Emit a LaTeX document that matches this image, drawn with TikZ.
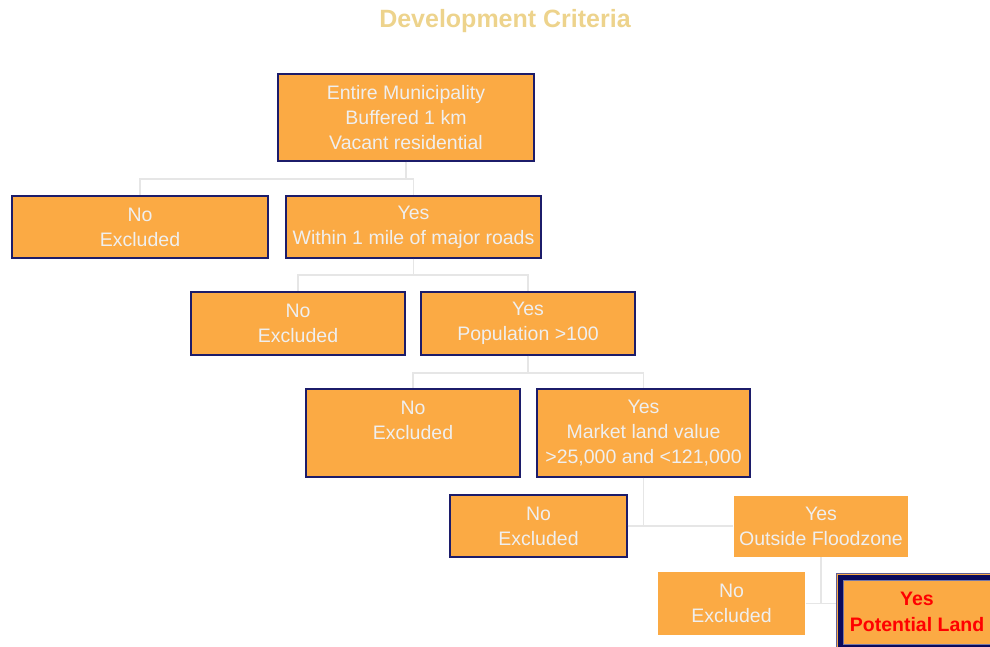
\documentclass[tikz,border=0pt]{standalone}
\usepackage{fontspec}
\setmainfont{Liberation Sans}
\definecolor{boxfill}{HTML}{FBAA44}
\definecolor{boxline}{HTML}{1C1C6A}
\definecolor{boxtext}{HTML}{EFEFEF}
\definecolor{connline}{HTML}{E6E6E6}
\definecolor{titlecol}{HTML}{EDD38C}
\definecolor{deepnavy}{HTML}{0A0A5C}
\definecolor{finalred}{HTML}{FF0000}
\tikzset{
  box/.style={draw=boxline, line width=1.3pt, fill=boxfill, text=boxtext,
    font=\fontsize{19.5}{25}\selectfont, align=center, inner sep=0pt,
    rectangle},
  plainbox/.style={box, draw=none},
  conn/.style={draw=connline, line width=1.6pt},
}
\begin{document}
\begin{tikzpicture}[x=1pt,y=-1pt]
\useasboundingbox (0,0) rectangle (990,647);
\clip (0,0) rectangle (990,647);

\node[text=titlecol, font=\bfseries\fontsize{25}{30}\selectfont] (title) at (505,21) {Development Criteria};

% connectors (drawn first, behind boxes)
\coordinate (c0) at (406,179);
\coordinate (c1) at (413.5,275);
\coordinate (c2) at (528,373);

\node[box, minimum width=256pt, minimum height=87pt] (root) at (406,117.5)
  {Entire Municipality\\Buffered 1 km\\Vacant residential};
\node[box, minimum width=256pt, minimum height=62pt] (no1) at (140,227) {No\\Excluded};
\node[box, minimum width=255pt, minimum height=62pt] (yes1) at (413.5,227) {Yes\\Within 1 mile of major roads};
\node[box, minimum width=214pt, minimum height=63pt] (no2) at (298,323.5) {No\\Excluded};
\node[box, minimum width=214pt, minimum height=63pt] (yes2) at (528,323.5) {Yes\\Population >100};
\node[box, minimum width=214pt, minimum height=88pt] (no3) at (413,433) {No\\Excluded\\\mbox{}};
\node[box, minimum width=213pt, minimum height=88pt] (yes3) at (643.5,433) {Yes\\Market land value\\>25,000 and <121,000};
\node[box, minimum width=177pt, minimum height=62pt] (no4) at (538.5,526) {No\\Excluded};
\node[plainbox, minimum width=174pt, minimum height=61pt] (yes4) at (821,526) {Yes\\Outside Floodzone};
\node[plainbox, minimum width=147pt, minimum height=63pt] (no5) at (731.5,603.5) {No\\Excluded};
\node[box, draw=boxline!70, line width=0.8pt, minimum width=162pt, minimum height=78pt,
  text=finalred, font=\bfseries\fontsize{19.5}{26}\selectfont] (yes5) at (917,612)
  {Yes\\Potential Land};
\draw[deepnavy, line width=5pt] ([shift={(4.8,4.8)}]yes5.north west) rectangle ([shift={(-4.8,-4.8)}]yes5.south east);
\draw[boxline!60, line width=0.6pt] ([shift={(7.6,7.6)}]yes5.north west) rectangle ([shift={(-7.6,-7.6)}]yes5.south east);

\begin{scope}[on background layer/.style={}]
\end{scope}

\draw[conn] (root.south) -- (root.south |- c0) -| (no1.north);
\draw[conn] (root.south |- c0) -| (yes1.north);
\draw[conn] (yes1.south) -- (c1) -| (no2.north);
\draw[conn] (c1) -| (yes2.north);
\draw[conn] (yes2.south) -- (c2) -| (no3.north);
\draw[conn] (c2) -| (yes3.north);
\draw[conn] (yes3.south) -- (yes3.south |- no4.east);
\draw[conn] (no4.east) -- (yes4.west);
\draw[conn] (yes4.south) -- (yes4.south |- no5.east);
\draw[conn] (no5.east) -- (no5.east -| yes5.west);
\end{tikzpicture}
\end{document}
